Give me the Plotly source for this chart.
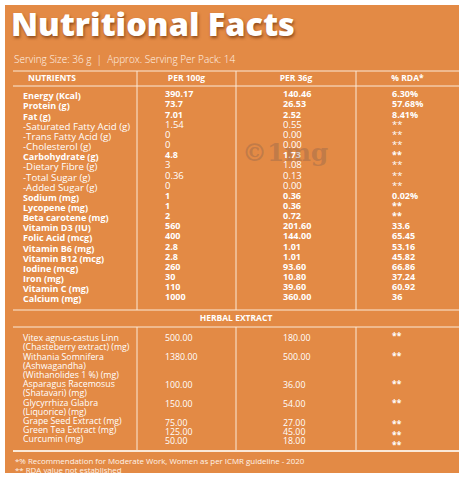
import plotly.graph_objects as go

# ---- data ----
nutrients = ["Energy (Kcal)", "Protein (g)", "Fat (g)", "-Saturated Fatty Acid (g)",
             "-Trans Fatty Acid (g)", "-Cholesterol (g)", "Carbohydrate (g)",
             "-Dietary Fibre (g)", "-Total Sugar (g)", "-Added Sugar (g)", "Sodium (mg)",
             "Lycopene (mg)", "Beta carotene (mg)", "Vitamin D3 (IU)", "Folic Acid (mcg)",
             "Vitamin B6 (mg)", "Vitamin B12 (mcg)", "Iodine (mcg)", "Iron (mg)",
             "Vitamin C (mg)", "Calcium (mg)"]
per_100g = ["390.17", "73.7", "7.01", "1.54", "0", "0", "4.8", "3", "0.36", "0", "1",
            "1", "2", "560", "400", "2.8", "2.8", "260", "30", "110", "1000"]
per_36g = ["140.46", "26.53", "2.52", "0.55", "0.00", "0.00", "1.73", "1.08", "0.13",
           "0.00", "0.36", "0.36", "0.72", "201.60", "144.00", "1.01", "1.01", "93.60",
           "10.80", "39.60", "360.00"]
rda = ["6.30%", "57.68%", "8.41%", "**", "**", "**", "**", "**", "**", "**", "0.02%",
       "**", "**", "33.6", "65.45", "53.16", "45.82", "66.86", "37.24", "60.92", "36"]

herbs = ["Vitex agnus-castus Linn\n(Chasteberry extract) (mg)",
         "Withania Somnifera\n(Ashwagandha)\n(Withanolides 1 %) (mg)",
         "Asparagus Racemosus\n(Shatavari) (mg)",
         "Glycyrrhiza Glabra\n(Liquorice) (mg)",
         "Grape Seed Extract (mg)", "Green Tea Extract (mg)", "Curcumin (mg)"]
herb_100g = ["500.00", "1380.00", "100.00", "150.00", "75.00", "125.00", "50.00"]
herb_36g = ["180.00", "500.00", "36.00", "54.00", "27.00", "45.00", "18.00"]
herb_rda = ["**", "**", "**", "**", "**", "**", "**"]

headers = ["NUTRIENTS", "PER 100g", "PER 36g", "% RDA*"]
title = "Nutritional Facts"
serving = "Serving Size: 36 g  |  Approx. Serving Per Pack: 14"
footnotes = ["*% Recommendation for Moderate Work, Women as per ICMR guideline - 2020",
             "** RDA value not established"]

# ---- layout constants (pixels) ----
W, H = 465, 480
BG = "#E38A45"
LINE = "#FBE9D8"
FONT = "Open Sans"
col_x = [13, 137, 236, 356, 459]      # table vertical rules
text_x = [23, 165, 283, 392]          # left edge of cell text
row0, row_h = 97, 10.15
herb0, herb_line = 339, 9.2
# the herbal value / RDA cells sit a little off their label lines in the original
herb_val_dy = [0, 0.5, 0.5, 1, 2, 2, 2]
herb_rda_dy = [-2, -1, 0, 0, 3.5, 4.5, 6]

fig = go.Figure()


def add_text(xs, ys, texts, size, bold=False, anchor="middle right", color="white"):
    fig.add_trace(go.Scatter(
        x=xs, y=ys, text=texts, mode="text", textposition=anchor,
        textfont=dict(family=FONT, size=size, color=color,
                      weight=700 if bold else 400),
        hoverinfo="skip", showlegend=False,
    ))


# background panel
fig.add_shape(type="rect", x0=5, y0=5, x1=459, y1=473, fillcolor=BG,
              line=dict(width=0), layer="below")

# table rules
top, head_bot, sect_top, sect_bot, bot = 71, 86, 310, 327, 451
for y in [top, head_bot, sect_top, sect_bot]:
    fig.add_shape(type="line", x0=col_x[0], x1=col_x[-1], y0=y, y1=y,
                  line=dict(color=LINE, width=1))
fig.add_shape(type="line", x0=col_x[0], x1=col_x[-1], y0=bot, y1=bot,
              line=dict(color=LINE, width=2))
for x in col_x[1:4]:
    for y0, y1 in [(top, sect_top), (sect_bot, bot)]:
        fig.add_shape(type="line", x0=x, x1=x, y0=y0, y1=y1,
                      line=dict(color=LINE, width=1))

# watermark
fig.add_annotation(x=285, y=152, text="©1mg", showarrow=False,
                   font=dict(family="DejaVu Serif", size=25, color="rgba(130,95,80,0.35)",
                             weight=700))

# title & serving line
fig.add_annotation(x=9, y=23, text=title, showarrow=False, xanchor="left",
                   font=dict(family=FONT, size=32.5, color="white", weight=800,
                             shadow="1px 2px 3px rgba(110,50,10,0.7)"))
fig.add_annotation(x=12, y=59, text=serving, showarrow=False, xanchor="left",
                   font=dict(family=FONT, size=10, color="#FFF4EA", weight=300))

# header row
add_text([28], [79], headers[:1], 8.5, bold=True)
centers = [(col_x[i] + col_x[i + 1]) / 2 for i in range(1, 4)]
add_text(centers, [79] * 3, headers[1:], 8.5, bold=True, anchor="middle center")

# nutrient rows: sub-items (leading "-") are regular weight
for i, name in enumerate(nutrients):
    y = row0 + i * row_h
    b = not name.startswith("-")
    add_text([text_x[0]], [y], [name], 9 if b else 9.7, bold=b)
    add_text(text_x[1:], [y - 2] * 3, [per_100g[i], per_36g[i], rda[i]],
             9 if b else 9.5, bold=b)

# herbal section
add_text([(col_x[0] + col_x[-1]) / 2], [(sect_top + sect_bot) / 2], ["HERBAL EXTRACT"],
         8.5, bold=True, anchor="middle center")
y = herb0
for i, name in enumerate(herbs):
    lines = name.split("\n")
    add_text([text_x[0]] * len(lines), [y + k * herb_line for k in range(len(lines))],
             lines, 8.8)
    add_text(text_x[1:3], [y + herb_val_dy[i]] * 2, [herb_100g[i], herb_36g[i]], 8.8)
    add_text([text_x[3]], [y + herb_rda_dy[i]], [herb_rda[i]], 8.5, bold=True)
    y += len(lines) * herb_line

# footnotes
add_text([15, 15], [462, 471], footnotes, 7.9, color="#FFF4EA")

fig.update_layout(
    width=W, height=H, margin=dict(l=0, r=0, t=0, b=0),
    paper_bgcolor="white", plot_bgcolor="white",
    xaxis=dict(range=[0, W], visible=False, fixedrange=True),
    yaxis=dict(range=[H, 0], visible=False, fixedrange=True),
)
fig.write_html("out.html", config={"displayModeBar": False},
               post_script="document.body.style.margin='0';")
